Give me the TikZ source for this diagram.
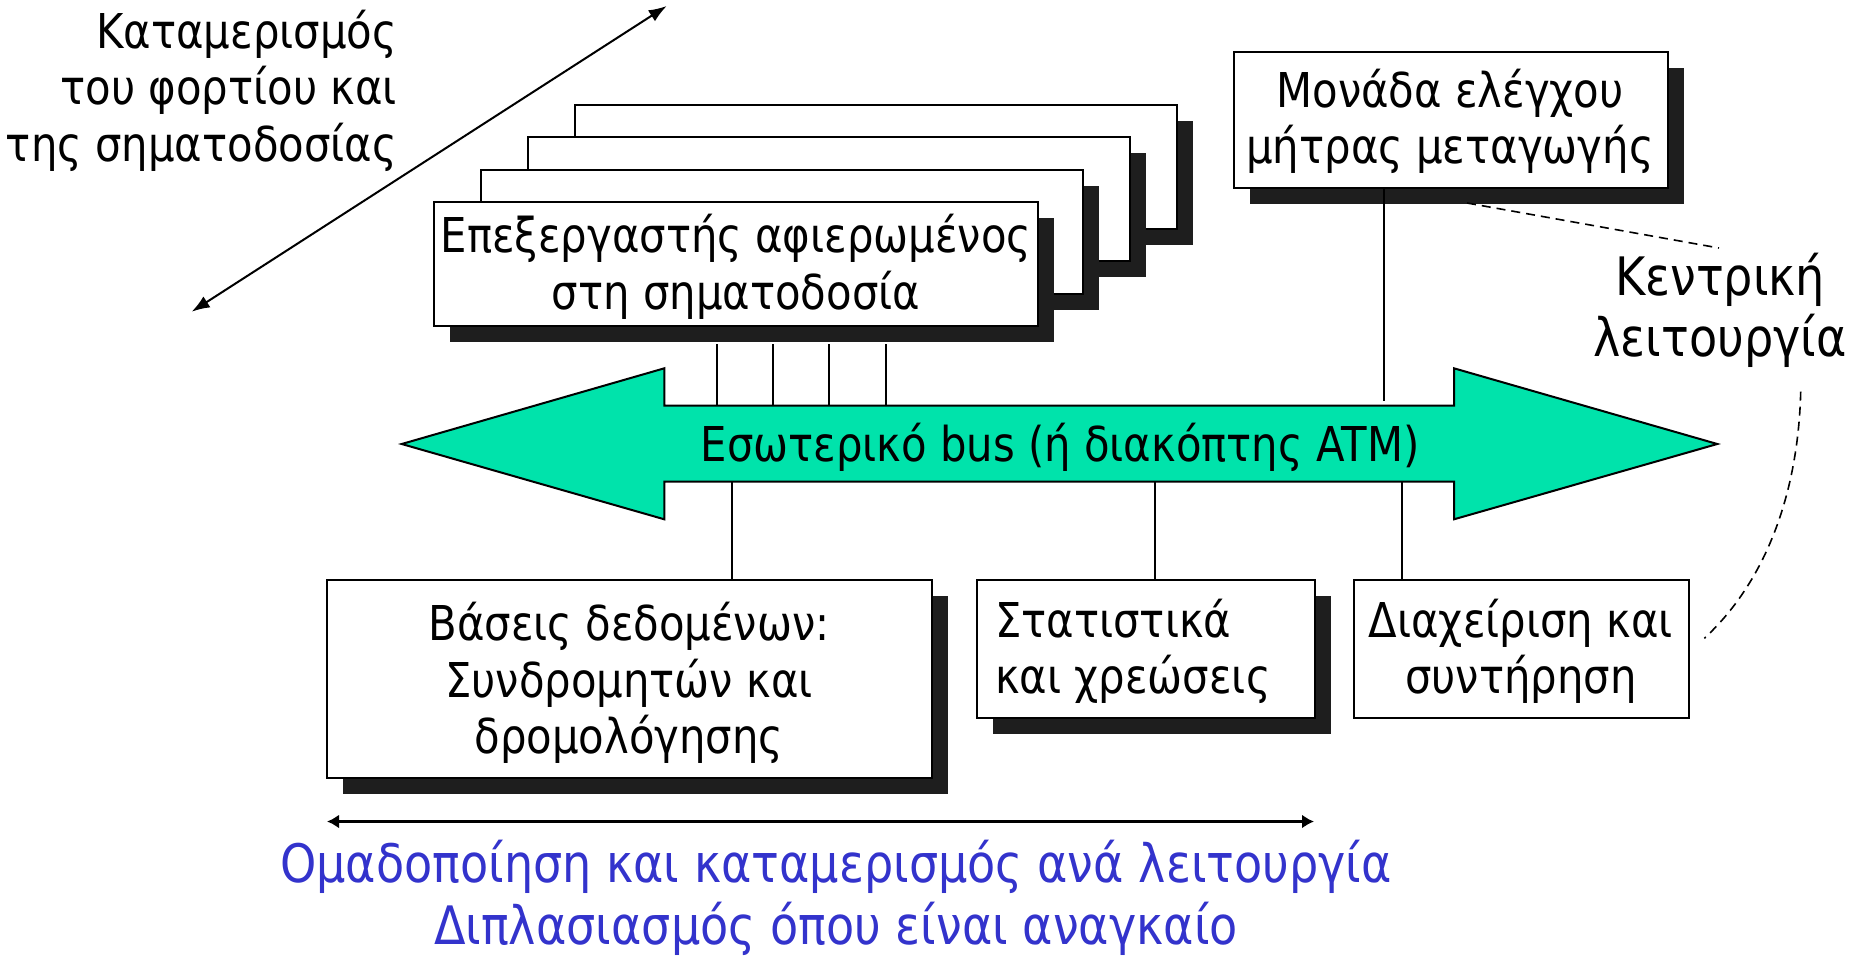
\documentclass[tikz,border=0pt]{standalone}
\usepackage{fontspec}
\setmainfont{DejaVu Sans}[FakeStretch=0.87]
\usetikzlibrary{arrows.meta,shadows}
\definecolor{busgreen}{RGB}{0,227,171}
\definecolor{shadowc}{RGB}{30,30,30}
\definecolor{bluetxt}{RGB}{51,51,204}
\begin{document}
\begin{tikzpicture}[x=1pt,y=-1pt,
  box/.style={draw=black, line width=2pt, fill=white, inner sep=0pt, anchor=north west},
  shadowed/.style={drop shadow={shadow xshift=16pt, shadow yshift=-16pt, fill=shadowc, opacity=1}},
  txt/.style={font=\fontsize{48}{56.5}\selectfont, inner sep=0pt},
  bigtxt/.style={font=\fontsize{53}{61}\selectfont, inner sep=0pt},
  conn/.style={line width=1.8pt},
  dashline/.style={line width=1.6pt, dash pattern=on 9pt off 6pt},
  bigtip/.style={{Latex[length=18pt,width=13pt]}-{Latex[length=18pt,width=13pt]}},
  smalltip/.style={{Latex[length=12pt,width=14pt]}-{Latex[length=12pt,width=14pt]}}
]
\useasboundingbox (0,0) rectangle (1855,956);

% diagonal arrow and title
\coordinate (ga) at (191.7,311.7);
\coordinate (gb) at (666.7,6);
\draw[line width=2pt, bigtip] (ga) -- (gb);
\node[txt, align=right, anchor=east] (title) at (397,90.5) {Καταμερισμός\\του φορτίου και\\της σηματοδοσίας};

% bus
\path[fill=busgreen, draw=black, line width=2pt, line join=miter]
  (401.7,444) -- (664.3,368.3) -- (664.3,405.7) -- (1454,405.7) -- (1454,368.3)
  -- (1717.3,444) -- (1454,519.3) -- (1454,481.7) -- (664.3,481.7) -- (664.3,519.3) -- cycle;
\node[txt, anchor=base] (bus) at (1060,461.7) {Εσωτερικό bus (ή διακόπτης ATM)};

% signalling processors (stack)
\node[box, shadowed, minimum width=602pt, minimum height=124pt] (p3) at (574,103.5) {};
\node[box, shadowed, minimum width=602pt, minimum height=124pt] (p2) at (527,136) {};
\node[box, shadowed, minimum width=602pt, minimum height=124pt] (p1) at (480,168.5) {};
\node[box, shadowed, minimum width=604pt, minimum height=124pt] (p0) at (433,201) {};
\node[txt, align=center] (p0t) at (736,267) {Επεξεργαστής αφιερωμένος\\στη σηματοδοσία};

\foreach \i/\x in {1/716.7,2/773.3,3/829.3,4/885.7} {
  \coordinate (bt\i) at (\x,405.7);
  \draw[conn] (p0.south -| bt\i) ++(0,17) -- (bt\i);
}

% switching matrix control unit
\node[box, shadowed, minimum width=434pt, minimum height=136pt] (mc) at (1233,51) {};
\node[txt, align=center] (mct) at (1450,121.5) {Μονάδα ελέγχου\\μήτρας μεταγωγής};
\coordinate (mb) at (1384,401);
\draw[conn] (mc.south -| mb) -- (mb);

% central function
\node[bigtxt, align=center] (kf) at (1720,310) {Κεντρική\\λειτουργία};
\coordinate (d1) at (1467,203);
\coordinate (d2) at (1719,248);
\draw[dashline] (d1) -- (d2);
\coordinate (d3) at (1800.7,391.7);
\coordinate (d4) at (1704.3,638.3);
\draw[dashline] (d3) .. controls (1798,500) and (1762,585) .. (d4);

% bottom boxes
\node[box, shadowed, minimum width=605pt, minimum height=198pt] (db) at (326,579) {};
\node[txt, align=center] (dbt) at (629,683) {Βάσεις δεδομένων:\\Συνδρομητών και\\δρομολόγησης};
\node[box, shadowed, minimum width=338pt, minimum height=138pt] (st) at (976,579) {};
\node[txt, align=left, anchor=west] (stt) at (995,651.5) {Στατιστικά\\και χρεώσεις};
\node[box, minimum width=335pt, minimum height=138pt] (mg) at (1353,579) {};
\node[txt, align=center] (mgt) at (1520.8,651.5) {Διαχείριση και\\συντήρηση};

\coordinate (bb1) at (732.3,481.7);
\coordinate (bb2) at (1155.3,481.7);
\coordinate (bb3) at (1401.7,481.7);
\draw[conn] (bb1) -- (db.north -| bb1);
\draw[conn] (bb2) -- (st.north -| bb2);
\draw[conn] (bb3) -- (mg.north -| bb3);

% bottom arrow and caption
\coordinate (la) at (327,821.5);
\coordinate (lb) at (1314,821.5);
\draw[line width=2.4pt, smalltip] (la) -- (lb);
\node[bigtxt, text=bluetxt, align=center, font=\fontsize{53}{62}\selectfont] (cap) at (836,898) {Ομαδοποίηση και καταμερισμός ανά λειτουργία\\Διπλασιασμός όπου είναι αναγκαίο};
\end{tikzpicture}
\end{document}
